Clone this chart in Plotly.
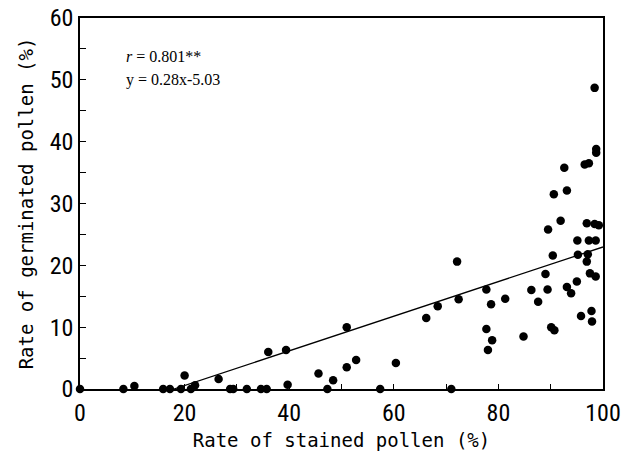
import plotly.graph_objects as go

# Data
stained = [0, 8.3, 10.4, 15.9, 17.2, 19.3, 20.0, 21.2, 22.0, 26.5, 28.7, 29.3, 31.9, 34.6, 35.7,
           36.0, 39.4, 39.7, 45.6, 47.3, 48.4, 51.0, 51.0, 52.8, 57.4, 60.4, 66.2, 68.4, 72.1,
           72.4, 71.0, 77.7, 78.6, 77.7, 78.8, 78.0, 81.3, 84.8, 86.3, 87.6, 89.0, 89.4, 89.5,
           90.4, 90.1, 90.7, 91.9, 93.1, 93.9, 95.0, 95.1, 95.2, 95.8, 96.9, 97.3, 97.1, 96.9,
           97.5, 97.8, 97.9, 98.4, 99.2, 98.6, 98.6, 98.4, 98.7, 98.7, 96.5, 97.3, 92.6, 90.6,
           93.1]
germinated = [0, 0, 0.5, 0, 0, 0, 2.2, 0, 0.6, 1.6, 0, 0, 0, 0, 0,
              6.0, 6.3, 0.7, 2.5, 0, 1.4, 3.5, 10.0, 4.7, 0, 4.2, 11.5, 13.4, 20.6,
              14.5, 0, 16.1, 13.7, 9.7, 7.9, 6.3, 14.6, 8.5, 16.0, 14.1, 18.6, 16.1, 25.8,
              21.6, 10.0, 9.5, 27.2, 16.5, 15.5, 17.4, 24.0, 21.7, 11.8, 26.8, 24.0, 21.8, 20.6,
              18.7, 12.6, 10.9, 26.7, 26.5, 24.0, 18.2, 48.7, 38.8, 38.2, 36.3, 36.5, 35.8, 31.5,
              32.1]

slope, intercept = 0.28, -5.03
line_x = [-intercept / slope, 100]
line_y = [slope * v + intercept for v in line_x]

x_ticks = list(range(0, 101, 10))
x_ticktext = [str(v) if v % 20 == 0 else "" for v in x_ticks]
y_ticks = list(range(0, 61, 5))
y_ticktext = [str(v) if v % 10 == 0 else "" for v in y_ticks]

fig = go.Figure()
fig.add_trace(go.Scatter(x=line_x, y=line_y, mode="lines",
                         line=dict(color="black", width=1.3), showlegend=False,
                         cliponaxis=False))
fig.add_trace(go.Scatter(x=stained, y=germinated, mode="markers",
                         marker=dict(color="black", size=8.5), showlegend=False,
                         cliponaxis=False))

tick_font = dict(family="Liberation Sans Narrow, Arial Narrow, Roboto Condensed, Liberation Sans, sans-serif",
                 size=24, color="black")
title_font = dict(family="DejaVu Sans Mono, Liberation Mono, monospace", size=19, color="black")

fig.update_xaxes(range=[0, 100], tickvals=x_ticks, ticktext=x_ticktext, ticks="inside",
                 ticklen=5, tickwidth=1, tickcolor="black", showline=True, linecolor="black",
                 linewidth=1.5, mirror=True, showgrid=False, zeroline=False,
                 tickfont=tick_font, ticklabelstandoff=1, automargin=False,
                 title=dict(text="Rate of stained pollen (%)", font=title_font, standoff=8))
fig.update_yaxes(range=[0, 60], tickvals=y_ticks, ticktext=y_ticktext, ticks="inside",
                 ticklen=6, tickwidth=1, tickcolor="black", showline=True, linecolor="black",
                 linewidth=1.5, mirror=True, showgrid=False, zeroline=False,
                 tickfont=tick_font, automargin=False,
                 title=dict(text="Rate of germinated pollen (%)", font=title_font, standoff=11))

fig.add_annotation(x=0.085, y=0.895, xref="paper", yref="paper", xanchor="left",
                   yanchor="middle", showarrow=False, align="left",
                   text="<i>r</i> = 0.801**",
                   font=dict(family="Liberation Serif, Times New Roman, serif", size=16, color="black"))
fig.add_annotation(x=0.085, y=0.833, xref="paper", yref="paper", xanchor="left",
                   yanchor="middle", showarrow=False, align="left",
                   text="y = 0.28x-5.03",
                   font=dict(family="Liberation Serif, Times New Roman, serif", size=16, color="black"))

fig.update_layout(width=629, height=455, paper_bgcolor="white", plot_bgcolor="white",
                  margin=dict(l=80, r=26, t=18, b=66))

fig.write_html("out.html")
